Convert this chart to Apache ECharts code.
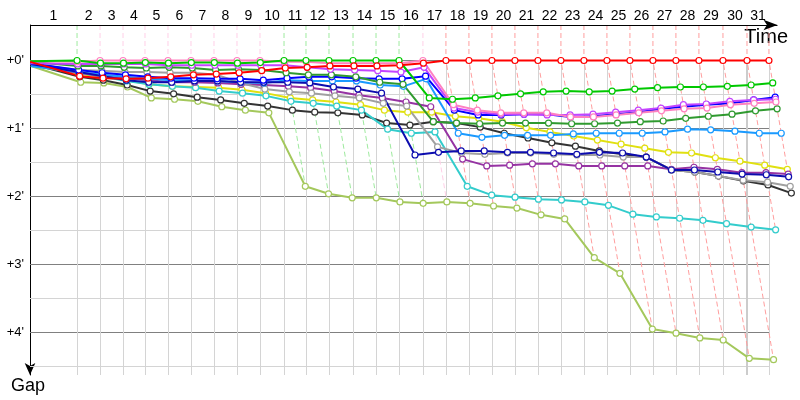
<!DOCTYPE html>
<html><head><meta charset="utf-8">
<script src="https://cdn.jsdelivr.net/npm/echarts@6/dist/echarts.min.js"></script>
<style>html,body{margin:0;padding:0;background:#fff}#c{width:800px;height:400px}</style>
</head><body><div id="c"></div>
<script>
// Lap numbers (top axis labels)
const lapNumbers = [1,2,3,4,5,6,7,8,9,10,11,12,13,14,15,16,17,18,19,20,21,22,23,24,25,26,27,28,29,30,31];
// Leader's elapsed time (minutes) at the end of lap 0..31
const leaderTimes = [0, 4.09, 6.09, 8.09, 10.0, 12.0, 14.0, 16.0, 18.0, 20.0, 22.09, 24.0, 26.0, 28.09, 30.09, 32.09, 34.17, 36.17, 38.17, 40.17, 42.17, 44.17, 46.17, 48.17, 50.17, 52.17, 54.17, 56.17, 58.17, 60.26, 62.35, 64.26];
// Gap ticks (minutes)
const gapLabelTicks = [0, 1, 2, 3, 4];
const gapGridTicks = [0, 0.5, 1, 1.5, 2, 2.5, 3, 3.5, 4, 4.5];

// Gaps to leader (minutes) at the end of lap 0..n for each car
const gapRed       = [0.02,0.23,0.26,0.27,0.26,0.24,0.21,0.20,0.18,0.15,0.11,0.10,0.08,0.08,0.08,0.07,0.04,0,0,0,0,0,0,0,0,0,0,0,0,0,0,0];
const gapGreen     = [0.01,0,0.04,0.04,0.03,0.04,0.03,0.03,0.04,0.03,0,0,0,0,0,0,0.55,0.57,0.55,0.52,0.49,0.46,0.45,0.46,0.45,0.42,0.40,0.39,0.39,0.38,0.36,0.33];
const gapPink      = [0.01,0.02,0,0,0,0,0,0,0,0,0.02,0.02,0.04,0.04,0.04,0.04,0,0.65,0.73,0.77,0.77,0.77,0.83,0.83,0.80,0.77,0.74,0.71,0.70,0.65,0.63,0.61];
const gapViolet    = [0.04,0.05,0.05,0.05,0.05,0.07,0.07,0.07,0.07,0.07,0.07,0.10,0.13,0.14,0.15,0.17,0.10,0.70,0.76,0.79,0.79,0.80,0.80,0.79,0.76,0.73,0.70,0.65,0.64,0.60,0.58,0.57];
const gapDarkGreen = [0.02,0.08,0.08,0.10,0.11,0.10,0.11,0.14,0.13,0.14,0.18,0.21,0.21,0.24,0.32,0.35,0.90,0.92,0.93,0.92,0.92,0.92,0.93,0.93,0.92,0.90,0.89,0.85,0.82,0.79,0.74,0.71];
const gapBlue      = [0.04,0.14,0.18,0.21,0.24,0.26,0.26,0.27,0.27,0.29,0.26,0.24,0.24,0.26,0.27,0.27,0.23,0.73,0.80,0.80,0.79,0.79,0.83,0.82,0.79,0.76,0.71,0.68,0.65,0.63,0.58,0.54];
const gapNavy      = [0.05,0.17,0.23,0.29,0.32,0.32,0.30,0.30,0.32,0.32,0.32,0.33,0.39,0.42,0.48,1.39,1.35,1.33,1.33,1.35,1.35,1.36,1.38,1.35,1.36,1.42,1.61,1.61,1.64,1.67,1.68,1.71];
const gapAzure     = [0.08,0.17,0.21,0.24,0.27,0.29,0.29,0.30,0.32,0.33,0.29,0.30,0.30,0.30,0.36,0.38,0.27,1.07,1.13,1.10,1.10,1.10,1.08,1.07,1.07,1.07,1.05,1.01,1.02,1.04,1.07,1.07];
const gapGray      = [0.05,0.14,0.15,0.17,0.17,0.18,0.18,0.21,0.33,0.42,0.46,0.48,0.52,0.55,0.63,0.67,1.27,1.36,1.38,1.36,1.36,1.38,1.39,1.39,1.42,1.42,1.61,1.64,1.70,1.76,1.79,1.85];
const gapPurple    = [0.07,0.18,0.23,0.26,0.29,0.32,0.32,0.33,0.35,0.36,0.38,0.40,0.45,0.51,0.55,0.61,0.68,1.45,1.55,1.54,1.52,1.52,1.55,1.55,1.55,1.55,1.60,1.57,1.60,1.65,1.65,1.67];
const gapCyan      = [0.08,0.18,0.24,0.30,0.35,0.38,0.40,0.45,0.48,0.52,0.60,0.63,0.67,0.73,1.01,1.07,1.05,1.85,1.98,2.01,2.04,2.05,2.08,2.13,2.26,2.30,2.32,2.35,2.40,2.45,2.49];
const gapYellow    = [0.05,0.20,0.24,0.29,0.35,0.38,0.39,0.40,0.43,0.48,0.55,0.58,0.61,0.65,0.73,0.76,0.76,0.82,0.85,0.90,0.99,1.05,1.11,1.17,1.23,1.29,1.35,1.36,1.43,1.48,1.54,1.60];
const gapBlack     = [0.05,0.24,0.29,0.36,0.45,0.49,0.54,0.58,0.63,0.67,0.73,0.76,0.77,0.80,0.92,0.95,0.90,0.92,0.98,1.07,1.14,1.21,1.26,1.33,1.38,1.42,1.61,1.64,1.70,1.77,1.83,1.95];
const gapLime      = [0.08,0.32,0.33,0.39,0.55,0.57,0.60,0.68,0.73,0.77,1.85,1.96,2.02,2.02,2.08,2.10,2.08,2.10,2.14,2.17,2.27,2.33,2.90,3.13,3.95,4.01,4.08,4.11,4.38,4.40];

const cars = [
  {name:'Lime',      color:'#a4c85c', gaps:gapLime},
  {name:'Black',     color:'#333333', gaps:gapBlack},
  {name:'Yellow',    color:'#e0e010', gaps:gapYellow},
  {name:'Cyan',      color:'#33cccc', gaps:gapCyan},
  {name:'Purple',    color:'#9633a3', gaps:gapPurple},
  {name:'Gray',      color:'#a0a0a0', gaps:gapGray},
  {name:'Azure',     color:'#1a9aff', gaps:gapAzure},
  {name:'Navy',      color:'#0c0cae', gaps:gapNavy},
  {name:'Blue',      color:'#0000ff', gaps:gapBlue},
  {name:'DarkGreen', color:'#2f9a2f', gaps:gapDarkGreen},
  {name:'Violet',    color:'#c444ff', gaps:gapViolet},
  {name:'Pink',      color:'#ff80c0', gaps:gapPink},
  {name:'Green',     color:'#00c800', gaps:gapGreen},
  {name:'Red',       color:'#ff0000', gaps:gapRed}
];

// axis extents (minutes)
const yMin = -0.522, yMax = 4.625;
const xMax = 66.96;        // full drawing width
const xGridEnd = 64.35;    // where horizontal grid lines stop
const xAxisEnd = 65.0;     // where the time axis line stops

function lighten(hex, f) {
  const n = parseInt(hex.slice(1), 16);
  const r = (n >> 16) & 255, g = (n >> 8) & 255, b = n & 255;
  const m = c => Math.round(c * f + 255 * (1 - f));
  return 'rgb(' + m(r) + ',' + m(g) + ',' + m(b) + ')';
}

const series = [];

// grid lines (drawn through the axes' scales)
const hLines = gapGridTicks.map(v => ([
  {coord: [0, v], lineStyle: {color: Number.isInteger(v) ? '#808080' : '#d4d4d4', width: 1, type: 'solid'}},
  {coord: [xGridEnd, v]}
]));
const vLines = leaderTimes.slice(1).map((t, i) => ([
  {coord: [t, 0], lineStyle: {color: i === 29 ? '#cccccc' : '#d4d4d4', width: i === 29 ? 2 : 1, type: 'solid'}},
  {coord: [t, yMax]}
]));
series.push({
  type: 'line', data: [[0, 0]], showSymbol: false, silent: true, z: 1,
  lineStyle: {opacity: 0},
  markLine: {silent: true, z: 1, symbol: ['none', 'none'], label: {show: false}, animation: false,
    data: hLines.concat(vLines)}
});

// lap lines: vertical from the axis down to the leader, then through every car on that lap
for (let k = 1; k < leaderTimes.length; k++) {
  const onLap = cars.filter(c => c.gaps.length > k);
  let leader = onLap[0];
  onLap.forEach(c => { if (c.gaps[k] < leader.gaps[k]) leader = c; });
  const T = leaderTimes[k];
  const sorted = onLap.map(c => c.gaps[k]).sort((a, b) => a - b);
  const data = [[T, yMin]].concat(sorted.map(g => [T + g, g]));
  series.push({
    type: 'line', data: data, showSymbol: false, silent: true, clip: false, z: 2,
    lineStyle: {color: lighten(leader.color, 0.38), width: 1, type: [5, 3]}
  });
}

// cars
cars.forEach(c => {
  series.push({
    name: c.name, type: 'line', clip: false, z: 3,
    symbol: 'circle', symbolSize: 6,
    data: c.gaps.map((g, k) => k === 0 ? {value: [leaderTimes[k] + g, g], symbol: 'none'} : [leaderTimes[k] + g, g]),
    itemStyle: {color: '#ffffff', borderColor: c.color, borderWidth: 1.2},
    lineStyle: {color: c.color, width: 2}
  });
});

// time axis line with arrow
series.push({
  type: 'line', data: [[0, yMin]], showSymbol: false, silent: true, z: 5,
  lineStyle: {opacity: 0},
  markLine: {silent: true, z: 6, symbol: ['none', 'arrow'], symbolSize: [8, 14], label: {show: false}, animation: false,
    lineStyle: {color: '#000', width: 1, type: 'solid'},
    data: [[{coord: [0, yMin]}, {coord: [xAxisEnd, yMin]}]]}
});

// lap label positions: middle of each lap on the time axis
const lapMids = lapNumbers.map((n, i) => (leaderTimes[i] + leaderTimes[i + 1]) / 2);

const chart = echarts.init(document.getElementById('c'), null, {renderer: 'canvas'});
chart.setOption({
  animation: false,
  backgroundColor: '#ffffff',
  grid: {left: 30, top: 25, width: 770, height: 350, containLabel: false},
  xAxis: {
    type: 'value', position: 'top', min: 0, max: xMax,
    axisLine: {show: false},
    axisTick: {show: false},
    splitLine: {show: false},
    axisLabel: {
      customValues: lapMids,
      formatter: function (v) {
        let best = 0;
        lapMids.forEach((m, i) => { if (Math.abs(m - v) < Math.abs(lapMids[best] - v)) best = i; });
        return String(lapNumbers[best]);
      },
      color: '#000', fontSize: 14, fontFamily: 'Liberation Sans, Arial, sans-serif', margin: 2
    }
  },
  yAxis: {
    type: 'value', inverse: true, min: yMin, max: yMax,
    axisLine: {show: true, onZero: false, lineStyle: {color: '#000', width: 1}, symbol: ['arrow', 'none'], symbolSize: [8, 12]},
    axisTick: {show: false},
    splitLine: {show: false},
    axisLabel: {
      customValues: gapLabelTicks,
      formatter: v => '+' + v + "'",
      color: '#000', fontSize: 13, fontFamily: 'Liberation Sans, Arial, sans-serif', margin: 6
    }
  },
  graphic: [
    {type: 'text', right: 12, top: 27, style: {text: 'Time', fill: '#000', font: '20px "Liberation Sans", Arial, sans-serif'}},
    {type: 'text', left: 11, top: 377, style: {text: 'Gap', fill: '#000', font: '18px "Liberation Sans", Arial, sans-serif'}}
  ],
  series: series
});
</script>
</body></html>
